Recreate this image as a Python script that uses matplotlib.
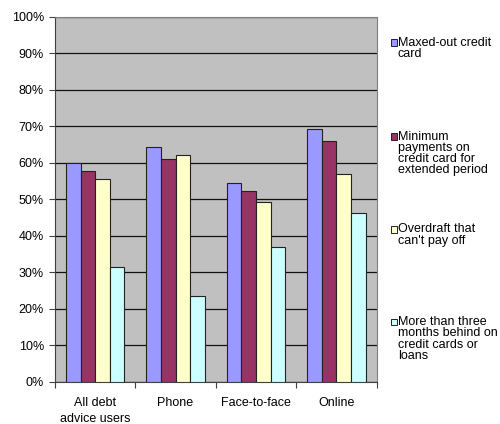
import matplotlib
matplotlib.use("Agg")
import matplotlib.pyplot as plt
import numpy as np
from matplotlib.patches import Rectangle

plt.rcParams['font.family'] = ['Liberation Sans', 'DejaVu Sans']

categories = ["All debt\nadvice users", "Phone", "Face-to-face", "Online"]
series_names = ["Maxed-out credit\ncard",
                "Minimum\npayments on\ncredit card for\nextended period",
                "Overdraft that\ncan't pay off",
                "More than three\nmonths behind on\ncredit cards or\nloans"]
maxed_out = [60.0, 64.2, 54.4, 69.2]
minimum_payments = [57.6, 61.0, 52.3, 66.0]
overdraft = [55.5, 62.0, 49.2, 56.9]
months_behind = [31.3, 23.5, 36.8, 46.1]
y_ticks = [0, 10, 20, 30, 40, 50, 60, 70, 80, 90, 100]

series = [maxed_out, minimum_payments, overdraft, months_behind]
colors = ["#9999FF", "#993366", "#FFFFCC", "#CCFFFF"]

FS = 9
W, H = 500, 424
fig = plt.figure(figsize=(W / 100, H / 100), dpi=100)
ax = fig.add_axes([55 / W, (H - 381.7) / H, (376.5 - 55) / W, (381.7 - 16.7) / H])
ax.set_facecolor("#C0C0C0")

x = np.arange(len(categories))
bw = 0.182
for i, (vals, c) in enumerate(zip(series, colors)):
    ax.bar(x + (i - 1.5) * bw, vals, width=bw, color=c, edgecolor="#222222",
           linewidth=0.8, zorder=3)

ax.set_xlim(-0.5, len(categories) - 0.5)
ax.set_ylim(0, 100)
ax.set_yticks(y_ticks)
ax.set_yticklabels([f"{t}%" for t in y_ticks], fontsize=FS)
ax.yaxis.grid(True, color="#111111", linewidth=0.9, zorder=1)
ax.set_axisbelow(True)

ax.set_xticks(np.arange(-0.5, len(categories)), minor=False)
ax.set_xticklabels([])
ax.set_xticks(x, minor=True)
ax.set_xticklabels(categories, minor=True, fontsize=FS, linespacing=1.45)
ax.tick_params(axis='x', which='minor', length=0, pad=11)
ax.tick_params(axis='x', which='major', length=4, direction='out', color='#404040')
ax.tick_params(axis='y', length=4, direction='out', pad=4, color='#404040')

for s in ['top', 'right']:
    ax.spines[s].set_color('#808080')
ax.spines['left'].set_color('#404040')
ax.spines['bottom'].set_color('#404040')

# legend (manual, no frame)
tops = [36.6, 130.6, 223.3, 316]
for name, c, t in zip(series_names, colors, tops):
    sq_y = t + 2.7
    fig.add_artist(Rectangle((390.7 / W, 1 - (sq_y + 6.7) / H), 6.7 / W, 6.7 / H,
                             transform=fig.transFigure, facecolor=c,
                             edgecolor="#222222", linewidth=0.7))
    fig.text(398 / W, 1 - t / H, name, fontsize=FS, va='top', ha='left',
             linespacing=0.92)

fig.savefig("out.png", dpi=100)
